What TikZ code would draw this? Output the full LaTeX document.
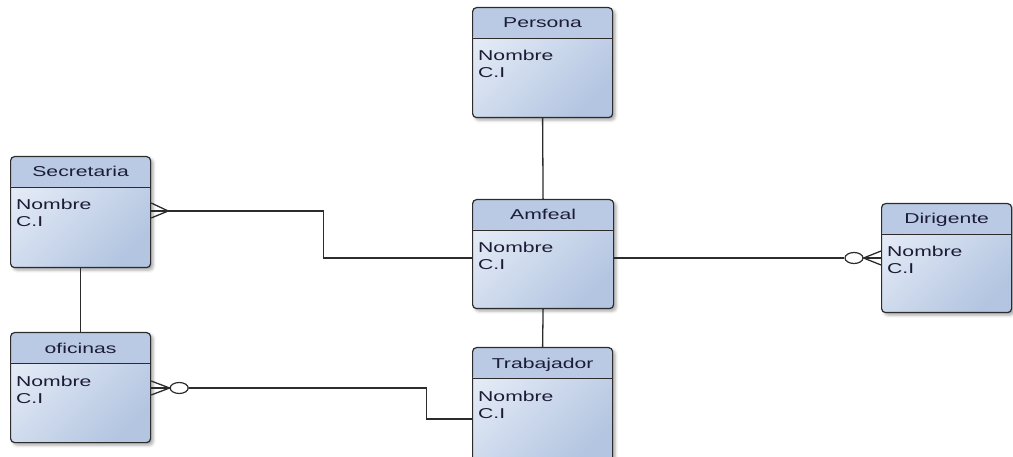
\documentclass[tikz,border=0pt]{standalone}
\usepackage{fontspec}
\setmainfont{Liberation Sans}
\usepackage{graphicx}
\usetikzlibrary{shadows.blur,shapes.geometric}

\definecolor{boxlight}{HTML}{E4EBF6}
\definecolor{boxdark}{HTML}{B3C5E1}
\definecolor{headfill}{HTML}{BACAE4}
\definecolor{edgecol}{HTML}{2C2C2C}
\definecolor{ink}{HTML}{1C1C36}

% wide lettering used for all entity texts
\newcommand{\wtxt}[1]{\scalebox{1.48}[1]{#1}}

\tikzset{
  entity/.style={draw=edgecol, line width=1.2pt, rounded corners=4pt,
    anchor=north west, inner sep=0pt,
    top color=boxlight, bottom color=boxdark, shading angle=45,
    blur shadow={shadow xshift=2.5pt, shadow yshift=-2.5pt,
                 shadow blur radius=3pt, shadow opacity=35},
    path picture={
      \fill[headfill] (path picture bounding box.north west)
        rectangle ([yshift=-31pt]path picture bounding box.north east);
      \draw[edgecol, line width=1.2pt]
        ([yshift=-31pt]path picture bounding box.north west)
        -- ([yshift=-31pt]path picture bounding box.north east);}},
  etitle/.style={anchor=base, inner sep=0pt, text=ink,
    font=\fontsize{14.3}{17}\selectfont},
  eattr/.style={anchor=base west, inner sep=0pt, text=ink,
    font=\fontsize{14.3}{17}\selectfont},
  link/.style={draw=edgecol, line width=1.3pt},
  ring/.style={ellipse, draw=edgecol, fill=white, line width=1.2pt,
    minimum width=18pt, minimum height=11pt, inner sep=0pt}
}

% entity box with its title and two attributes
\newcommand{\entitybox}[5]{%
  \node[entity, minimum width=#3, minimum height=#4] (#1) at #2 {};
  \node[etitle] (#1-title) at ([yshift=-21pt]#1.north) {\wtxt{#5}};
  \node[eattr] (#1-nombre) at ([xshift=6pt,yshift=-54pt]#1.north west) {\wtxt{Nombre}};
  \node[eattr] (#1-ci) at ([xshift=6pt,yshift=-71pt]#1.north west) {\wtxt{C.I}};
}

\begin{document}
\begin{tikzpicture}[x=1pt, y=-1pt]
  \useasboundingbox (0,0) rectangle (1013,457);

  \entitybox{persona}{(472,7)}{140pt}{110pt}{Persona}
  \entitybox{secretaria}{(10,156)}{140pt}{111pt}{Secretaria}
  \entitybox{amfeal}{(472,199)}{141pt}{109pt}{Amfeal}
  \entitybox{dirigente}{(881,203)}{130pt}{109pt}{Dirigente}
  \entitybox{oficinas}{(10,332)}{140pt}{110pt}{oficinas}
  \entitybox{trabajador}{(472,347)}{140pt}{116pt}{Trabajador}

  % simple one-to-one links
  \draw[link] (persona.south) -- (amfeal.north);
  \draw[link] (amfeal.south) -- (trabajador.north);
  \draw[link] (secretaria.south) -- (oficinas.north);

  % Secretaria (many) -- Amfeal
  \coordinate (sec-end) at ([yshift=-55pt]secretaria.north east);
  \coordinate (sec-tip) at ([xshift=17pt]sec-end);
  \coordinate (amf-w) at ([yshift=-59pt]amfeal.north west);
  \draw[link] ([yshift=8pt]sec-end) -- (sec-tip) -- ([yshift=-7pt]sec-end);
  \draw[link] (sec-end) -- ++(172,0) |- (amf-w);

  % Amfeal -- Dirigente (zero or many)
  \coordinate (amf-e) at ([yshift=-59pt]amfeal.north east);
  \coordinate (dir-w) at ([yshift=-55pt]dirigente.north west);
  \node[ring] (dir-ring) at ([xshift=-27pt]dir-w) {};
  \draw[link] (amf-e) -- (dir-ring.west);
  \draw[link] ([yshift=7pt]dir-w) -- (dir-ring.east) -- ([yshift=-7pt]dir-w);
  \draw[link] (dir-ring.east) -- (dir-w);

  % oficinas (zero or many) -- Trabajador
  \coordinate (ofi-e) at ([yshift=-56pt]oficinas.north east);
  \coordinate (trab-w) at ([yshift=-72pt]trabajador.north west);
  \node[ring] (ofi-ring) at ([xshift=28pt]ofi-e) {};
  \draw[link] ([yshift=7pt]ofi-e) -- (ofi-ring.west) -- ([yshift=-7pt]ofi-e);
  \draw[link] (ofi-e) -- (ofi-ring.west);
  \draw[link] (ofi-ring.east) -- ++(238,0) |- (trab-w);
\end{tikzpicture}
\end{document}
